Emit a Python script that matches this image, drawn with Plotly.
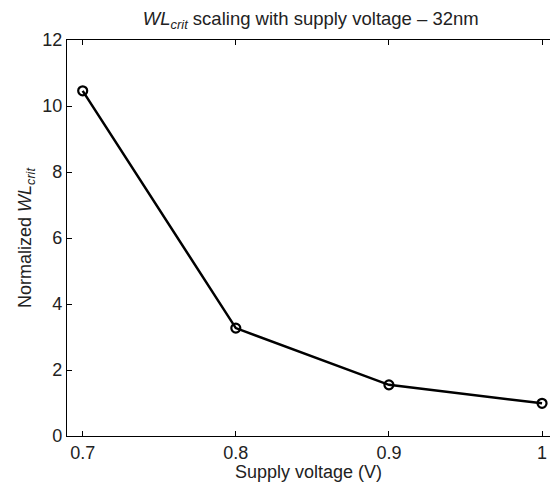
import plotly.graph_objects as go

voltage = [0.7, 0.8, 0.9, 1.0]
wl_crit = [10.46, 3.27, 1.55, 0.99]
x_ticks = [0.7, 0.8, 0.9, 1.0]
x_ticklabels = ["0.7", "0.8", "0.9", "1"]
y_ticks = [0, 2, 4, 6, 8, 10, 12]

font_family = "Liberation Sans, Arial, Helvetica, sans-serif"

fig = go.Figure()
fig.add_trace(go.Scatter(
    x=voltage, y=wl_crit, mode="lines+markers",
    line=dict(color="black", width=2.5),
    marker=dict(symbol="circle-open", size=9, color="black", line=dict(width=2.2)),
    showlegend=False, cliponaxis=False,
))

fig.update_layout(
    width=550, height=482,
    margin=dict(l=67, r=0, t=40, b=46, autoexpand=False),
    paper_bgcolor="white", plot_bgcolor="white",
    font=dict(family=font_family, size=18, color="#222"),
    title=dict(
        text="<i>WL</i><sub><i>crit</i></sub> scaling with supply voltage – 32nm",
        x=0.565, xanchor="center", yref="container", y=0.975, yanchor="top",
        font=dict(size=18.5, family=font_family, color="#222"),
    ),
)

fig.update_xaxes(
    range=[0.68975, 1.0052], tickvals=x_ticks, ticktext=x_ticklabels,
    showgrid=False, zeroline=False, automargin=False,
    showline=True, linecolor="black", linewidth=1.2, mirror="ticks",
    ticks="inside", ticklen=5, tickcolor="black", tickwidth=1,
    title=dict(text="Supply voltage (V)", standoff=0, font=dict(size=18)),
    tickfont=dict(size=18),
)
fig.update_yaxes(
    range=[0, 12], tickvals=y_ticks,
    showgrid=False, zeroline=False, automargin=False,
    showline=True, linecolor="black", linewidth=1.2, mirror=False,
    ticks="inside", ticklen=5, tickcolor="black", tickwidth=1,
    title=dict(text="Normalized <i>WL</i><sub><i>crit</i></sub>", standoff=5, font=dict(size=18)),
    tickfont=dict(size=18),
)

fig.write_html("out.html", config={"displayModeBar": False},
               post_script="document.body.style.margin='0';")
